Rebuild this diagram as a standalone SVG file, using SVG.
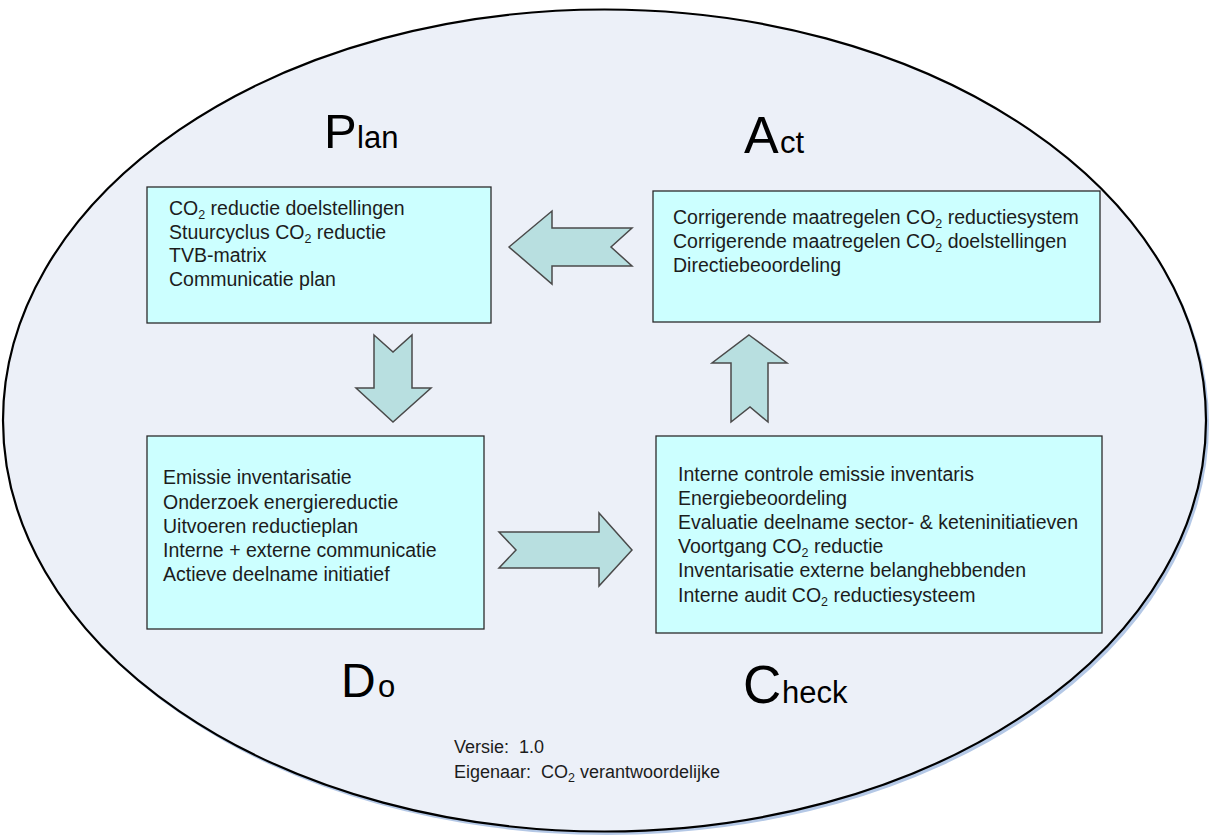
<svg xmlns="http://www.w3.org/2000/svg" width="1209" height="837" viewBox="0 0 1209 837">
<style>
.box{fill:#CCFFFF;stroke:#2b2b2b;stroke-width:1.3}
.arrow{fill:#B8DFE0;stroke:#4a4a4a;stroke-width:1.5;stroke-linejoin:miter}
.t{font-family:"Liberation Sans",Arial,sans-serif;font-size:19.5px;fill:#1c1c1c}
.v{font-family:"Liberation Sans",Arial,sans-serif;font-size:18px;fill:#1c1c1c}
.lbl{font-family:"Liberation Sans",Arial,sans-serif;fill:#000}
.sub{font-size:12.5px}
</style>
<rect width="1209" height="837" fill="#ffffff"/>
<g id="background">
<ellipse cx="607" cy="424" rx="602" ry="411" fill="#B4C8E6"/>
<ellipse cx="604.5" cy="420.5" rx="601.5" ry="411" fill="#ECF0F8" stroke="#000" stroke-width="2.2"/>
</g>
<g id="connectors">
<polygon class="arrow" points="509,247 552,211 552,228 632,228 611,247 632,266 552,266 552,284"/>
<polygon class="arrow" points="374,335 393,352 412,335 412,388 431,388 393,422 356,388 374,388"/>
<polygon class="arrow" points="499,532 599,532 599,513 632,550 599,586 599,568 499,568 516,550"/>
<polygon class="arrow" points="749,335 787,363 768,363 768,422 750,407 731,422 731,363 712,363"/>
</g>
<g id="plan">
<text class="lbl" x="324" y="148"><tspan font-size="49">P</tspan><tspan x="357" font-size="31">lan</tspan></text>
<rect class="box" x="147" y="187" width="344" height="136"/>
<text class="t" x="169" y="215">CO<tspan class="sub" dy="4">2</tspan><tspan dy="-4"> reductie doelstellingen</tspan></text>
<text class="t" x="169" y="238.5">Stuurcyclus  CO<tspan class="sub" dy="4">2</tspan><tspan dy="-4"> reductie</tspan></text>
<text class="t" x="169" y="262">TVB-matrix</text>
<text class="t" x="169" y="285.5">Communicatie plan</text>
</g>
<g id="act">
<text class="lbl" x="744" y="153"><tspan font-size="52">A</tspan><tspan x="780" font-size="31">ct</tspan></text>
<rect class="box" x="653" y="191" width="447" height="131"/>
<text class="t" x="673" y="224">Corrigerende maatregelen CO<tspan class="sub" dy="4">2</tspan><tspan dy="-4"> reductiesystem</tspan></text>
<text class="t" x="673" y="248">Corrigerende maatregelen CO<tspan class="sub" dy="4">2</tspan><tspan dy="-4"> doelstellingen</tspan></text>
<text class="t" x="673" y="272">Directiebeoordeling</text>
</g>
<g id="do">
<rect class="box" x="147" y="436" width="337" height="193"/>
<text class="t" x="163" y="484">Emissie inventarisatie</text>
<text class="t" x="163" y="508.5">Onderzoek energiereductie</text>
<text class="t" x="163" y="532.5">Uitvoeren reductieplan</text>
<text class="t" x="163" y="557">Interne + externe communicatie</text>
<text class="t" x="163" y="581">Actieve deelname initiatief</text>
<text class="lbl" x="341" y="697"><tspan font-size="48">D</tspan><tspan x="378" font-size="31">o</tspan></text>
</g>
<g id="check">
<rect class="box" x="656" y="436" width="446" height="197"/>
<text class="t" x="678" y="481">Interne controle emissie inventaris</text>
<text class="t" x="678" y="505">Energiebeoordeling</text>
<text class="t" x="678" y="529">Evaluatie deelname sector- &amp; keteninitiatieven</text>
<text class="t" x="678" y="553">Voortgang CO<tspan class="sub" dy="4">2</tspan><tspan dy="-4"> reductie</tspan></text>
<text class="t" x="678" y="577">Inventarisatie externe belanghebbenden</text>
<text class="t" x="678" y="602">Interne audit CO<tspan class="sub" dy="4">2</tspan><tspan dy="-4"> reductiesysteem</tspan></text>
<text class="lbl" x="743" y="703"><tspan font-size="53">C</tspan><tspan x="782" font-size="31">heck</tspan></text>
</g>
<g id="version">
<text class="v" x="454" y="753" xml:space="preserve">Versie:  1.0</text>
<text class="v" x="454" y="778" xml:space="preserve">Eigenaar:  CO<tspan class="sub" dy="4">2</tspan><tspan dy="-4"> verantwoordelijke</tspan></text>
</g>
</svg>
